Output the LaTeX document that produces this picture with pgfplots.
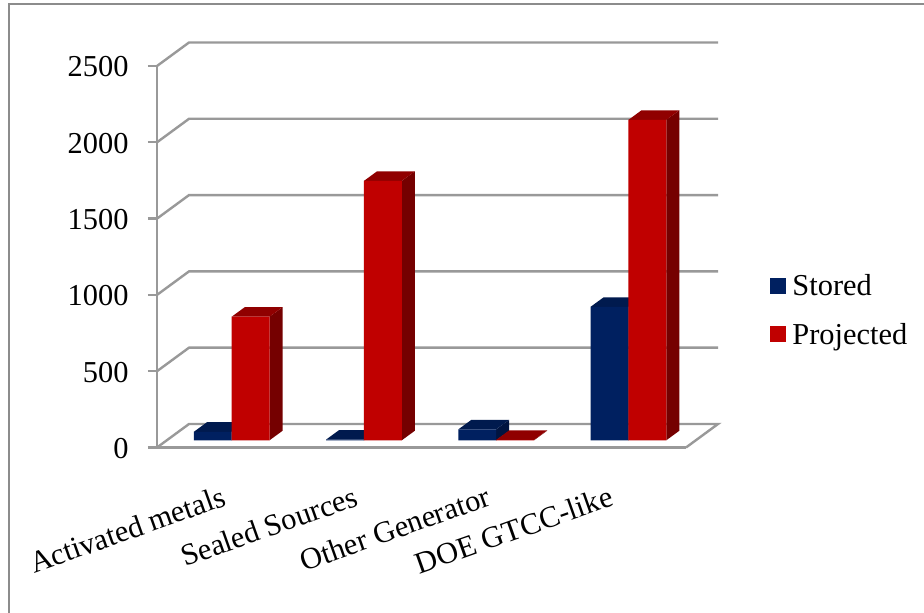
\documentclass[border=0pt]{standalone}
\usepackage{pgfplots}
\usepackage{pgfplotstable}
\usepackage{fontspec}
\setmainfont{Liberation Serif}
\pgfplotsset{compat=1.18}

\definecolor{gridgray}{HTML}{999999}
\definecolor{framegray}{HTML}{8C8C8C}
\definecolor{storedfront}{HTML}{002060}
\definecolor{storedtop}{HTML}{001A4E}
\definecolor{storedside}{HTML}{001440}
\definecolor{projfront}{HTML}{C00000}
\definecolor{projtop}{HTML}{900000}
\definecolor{projside}{HTML}{750000}
\definecolor{projkey}{HTML}{CC0000}

% Quantity per waste category
\pgfplotstableread{
pos Stored Projected
1   56     810
2   5      1700
3   72     3
4   875    2100
}\chartdata

% Depth of a bar in axis units (horizontal in categories, vertical in data units)
\def\bardx{0.0983}
\def\bardy{62.3}
\def\barw{0.2858}

% Top and side faces of one series: column, left edge relative to the category, colours
\newcommand{\barfaces}[4]{%
  \pgfplotsinvokeforeach{0,1,2,3}{%
    \pgfplotstablegetelem{##1}{#1}\of\chartdata
    \pgfmathsetmacro{\val}{\pgfplotsretval}%
    \pgfmathsetmacro{\xl}{##1+1+#2}%
    \pgfmathsetmacro{\xr}{\xl+\barw}%
    \pgfmathsetmacro{\xlb}{\xl+\bardx}%
    \pgfmathsetmacro{\xrb}{\xr+\bardx}%
    \pgfmathsetmacro{\valb}{\val+\bardy}%
    \addplot[fill=#4,draw=none,forget plot] coordinates
      {(\xr,0) (\xrb,\bardy) (\xrb,\valb) (\xr,\val)} --cycle;
    \addplot[fill=#3,draw=none,forget plot] coordinates
      {(\xl,\val) (\xlb,\valb) (\xrb,\valb) (\xr,\val)} --cycle;
  }%
}

\begin{document}
\begin{tikzpicture}
\path[use as bounding box,fill=white] (0pt,0pt) rectangle (924pt,613pt);
\draw[framegray,line width=2pt] (9pt,0pt) -- (9pt,609pt) -- (924pt,609pt);

% Walls, floor and value axis
\begin{axis}[
  at={(157pt,165.5pt)},anchor=south west,
  scale only axis,width=529pt,height=381.5pt,
  xmin=0,xmax=4,ymin=0,ymax=2500,
  clip=false,
  axis lines=left,
  axis line style={-,gridgray,line width=2.4pt},
  tick style={gridgray,line width=2.4pt},
  ytick={0,500,1000,1500,2000,2500},
  major tick length=9pt,
  ytick align=outside,
  xtick={0.5,1.5,2.5,3.43},
  xticklabels={Activated metals,Sealed Sources,Other Generator,DOE GTCC-like},
  x tick style={draw=none},
  minor xtick={0,1,2,3,4},
  minor tick length=9pt,
  minor x tick style={gridgray,line width=2.4pt},
  xtick align=outside,
  /pgf/number format/assume math mode=true,
  /pgf/number format/set thousands separator={},
  ticklabel style={font=\fontsize{30.4}{34}\selectfont},
  yticklabel style={xshift=-16pt,yshift=-1pt},
  xticklabel style={rotate=19.5,anchor=north east,inner sep=0pt,yshift=-26pt,xshift=-12pt},
]
\addplot[gridgray,line width=2.4pt] coordinates {(0,0) (0.242,154) (4.242,154) (4,0)};
\addplot[gridgray,line width=2.4pt] coordinates {(0,500) (0.242,654) (4.242,654)};
\addplot[gridgray,line width=2.4pt] coordinates {(0,1000) (0.242,1154) (4.242,1154)};
\addplot[gridgray,line width=2.4pt] coordinates {(0,1500) (0.242,1654) (4.242,1654)};
\addplot[gridgray,line width=2.4pt] coordinates {(0,2000) (0.242,2154) (4.242,2154)};
\addplot[gridgray,line width=2.4pt] coordinates {(0,2500) (0.242,2654) (4.242,2654)};
\end{axis}

% Solid bars standing on the floor
\begin{axis}[
  at={(165.6pt,172.7pt)},anchor=south west,
  scale only axis,width=529pt,height=381.5pt,
  xmin=0.5,xmax=4.5,ymin=0,ymax=2500,
  clip=false,
  hide axis,
  legend style={
    at={(1.143,0.3415)},anchor=west,
    draw=none,fill=none,
    font=\fontsize{30.4}{34}\selectfont,
    row sep=22pt,
    inner sep=0pt,
    /tikz/every odd column/.append style={column sep=4pt},
  },
  legend cell align=left,
  legend image code/.code={\fill[#1] (0pt,-8pt) rectangle (16pt,8pt);},
]
\barfaces{Stored}{-0.2858}{storedtop}{storedside}
\addplot[ybar,bar width=37.8pt,bar shift=-18.9pt,fill=storedfront,draw=none]
  table[x=pos,y=Stored] {\chartdata};
\addlegendentry{Stored}
\barfaces{Projected}{0}{projtop}{projside}
\addplot[ybar,bar width=37.8pt,bar shift=18.9pt,fill=projfront,draw=none]
  table[x=pos,y=Projected] {\chartdata};
\addlegendentry{Projected}
\end{axis}
\end{tikzpicture}
\end{document}
